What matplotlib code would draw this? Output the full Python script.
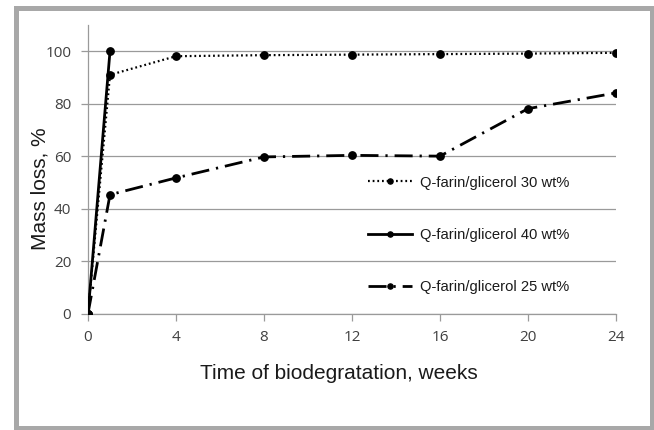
import matplotlib
matplotlib.use("Agg")
import matplotlib.pyplot as plt
from matplotlib.patches import Rectangle

weeks = [0, 1, 4, 8, 12, 16, 20, 24]
mass_30 = [0, 91, 98.1, 98.5, 98.7, 98.9, 99.1, 99.4]
weeks_40 = [0, 1]
mass_40 = [0, 100]
mass_25 = [0, 45.3, 51.7, 59.7, 60.3, 60.0, 78.1, 84.1]
labels = ["Q-farin/glicerol 30 wt%", "Q-farin/glicerol 40 wt%", "Q-farin/glicerol 25 wt%"]
xticks = [0, 4, 8, 12, 16, 20, 24]
yticks = [0, 20, 40, 60, 80, 100]

W, H = 654, 430
fig = plt.figure(figsize=(W / 100, H / 100), dpi=100)
ax = fig.add_axes([88 / W, 1 - 313.5 / H, (616 - 88) / W, (313.5 - 25) / H])

grid_c = "#9a9a9a"
ax.plot(weeks, mass_30, linestyle=(0, (0.8, 1.3)), color="black", lw=1.6,
        marker="o", ms=5.3, label=labels[0], zorder=3)
ax.plot(weeks_40, mass_40, linestyle="-", color="black", lw=2.0,
        marker="o", ms=5.3, label=labels[1], zorder=4)
ax.plot(weeks, mass_25, linestyle=(0, (6.5, 2.5, 0.8, 2.5)), color="black", lw=2.0,
        marker="o", ms=5.3, label=labels[2], zorder=3)

ax.set_xlim(0, 24)
ax.set_ylim(0, 110)
ax.set_xticks(xticks)
ax.set_yticks(yticks)
ax.yaxis.grid(True, color=grid_c, lw=0.9)
ax.set_axisbelow(True)
for s in ["top", "right"]:
    ax.spines[s].set_visible(False)
for s in ["left", "bottom"]:
    ax.spines[s].set_color(grid_c)
    ax.spines[s].set_linewidth(0.9)
ax.tick_params(axis="both", colors=grid_c, length=5, width=0.9,
               labelcolor="#404040", labelsize=11)
ax.tick_params(axis="x", pad=7)
ax.tick_params(axis="y", pad=7)
for lab in ax.get_xticklabels() + ax.get_yticklabels():
    lab.set_family("Open Sans")

ax.set_xlabel("Time of biodegratation, weeks", family="Liberation Sans",
              fontsize=15, color="#1a1a1a")
ax.set_ylabel("Mass loss, %", family="Liberation Sans",
              fontsize=15, color="#1a1a1a")
ax.xaxis.set_label_coords(0.476, -0.175)
ax.yaxis.set_label_coords(-0.072, 0.431)

leg = ax.legend(loc="upper left", bbox_to_anchor=(0.506, 0.524), frameon=False,
                prop={"family": "Liberation Sans", "size": 10.6},
                labelspacing=2.6, handlelength=2.95, handletextpad=0.55,
                numpoints=1, markerscale=0.7)
for t in leg.get_texts():
    t.set_color("#1a1a1a")

fig.patches.append(Rectangle((15.5 / W, 1 - 428 / H), (652 - 15.5) / W, (428 - 7.5) / H,
                             transform=fig.transFigure, fill=False,
                             edgecolor="#a8a8a8", lw=3.6, zorder=0))

fig.savefig("out.png", dpi=100)
